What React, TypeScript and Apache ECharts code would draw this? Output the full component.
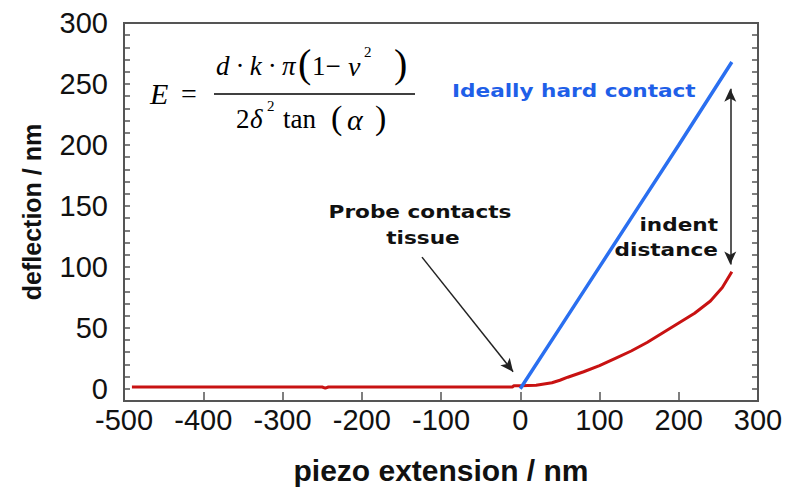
import React, { useEffect, useRef } from "react";
import * as echarts from "echarts";

// piezo extension (nm) vs deflection (nm)
const hardX = [0, 50, 100, 150, 200, 267];
const hardY = [0, 50, 100, 150, 200, 268];

const tissueX = [-490, -250, -246, -242, -10, -8, 0, 20, 40, 50, 60, 80, 100, 120, 140, 160, 180, 200, 220, 240, 255, 267];
const tissueY = [1.5, 1.5, 0.6, 1.5, 1.5, 2.5, 2.5, 3, 5, 7, 9.5, 14, 19, 25, 31, 38, 46, 54, 62, 72, 83, 96];

const xTicks = { min: -500, max: 300, step: 100 };
const yTicks = { min: -10, max: 300, step: 10, labelStep: 50 };

// annotation arrows in data coordinates
const contactArrow = [[-124, 108], [-9, 14]];
const indentArrow = [[265, 246], [265, 102]];

const SANS = "Liberation Sans, Arial, sans-serif";
const SERIF = "Liberation Serif, Times New Roman, serif";
const NOTE = "DejaVu Sans, Verdana, sans-serif";
const AXIS = "#555";

export default function App() {
  const ref = useRef<HTMLDivElement>(null);

  useEffect(() => {
    document.body.style.margin = "0";
    if (!ref.current) return;
    const chart = echarts.init(ref.current, null, { renderer: "svg" });

    const noteText = (text: string, x: number, y: number, align: string, color: string) => ({
      type: "text",
      x,
      y,
      scaleX: 1.2,
      style: {
        text,
        fill: color,
        font: `bold 18px ${NOTE}`,
        textAlign: align,
        textVerticalAlign: "middle",
      },
    });

    const mathText = (text: string, x: number, y: number, size: number, italic: boolean) => ({
      type: "text",
      x,
      y,
      style: {
        text,
        fill: "#000",
        font: `${italic ? "italic " : ""}${size}px ${SERIF}`,
        textAlign: "left",
        textVerticalAlign: "middle",
      },
    });

    const option: any = {
      animation: false,
      backgroundColor: "#fff",
      grid: {
        left: 124,
        right: 29,
        top: 23,
        bottom: 97,
        show: true,
        borderColor: AXIS,
        borderWidth: 2,
        backgroundColor: "transparent",
      },
      xAxis: {
        type: "value",
        min: xTicks.min,
        max: xTicks.max,
        interval: xTicks.step,
        axisLine: { show: true, onZero: false, lineStyle: { color: AXIS, width: 2 } },
        axisTick: { show: true, inside: true, length: 9, lineStyle: { color: AXIS, width: 1.5 } },
        splitLine: { show: false },
        axisLabel: { fontSize: 29, fontFamily: SANS, color: "#111", margin: 4 },
        name: "piezo extension / nm",
        nameLocation: "middle",
        nameGap: 54,
        nameTextStyle: { fontSize: 30, fontWeight: "bold", fontFamily: SANS, color: "#111" },
      },
      yAxis: [
        {
          type: "value",
          min: yTicks.min,
          max: yTicks.max,
          interval: yTicks.step,
          position: "left",
          axisLine: { show: true, onZero: false, lineStyle: { color: AXIS, width: 2 } },
          axisTick: { show: true, inside: true, length: 6, lineStyle: { color: AXIS, width: 1.5 } },
          splitLine: { show: false },
          axisLabel: {
            fontSize: 29,
            fontFamily: SANS,
            color: "#111",
            margin: 16,
            formatter: (v: number) => (v >= 0 && v % yTicks.labelStep === 0 ? String(v) : ""),
          },
          name: "deflection / nm",
          nameLocation: "middle",
          nameGap: 80,
          nameTextStyle: { fontSize: 25, fontWeight: "bold", fontFamily: SANS, color: "#111" },
        },
        {
          type: "value",
          min: yTicks.min,
          max: yTicks.max,
          interval: yTicks.step,
          position: "right",
          axisLine: { show: true, onZero: false, lineStyle: { color: AXIS, width: 2 } },
          axisTick: { show: true, inside: true, length: 6, lineStyle: { color: AXIS, width: 1.5 } },
          splitLine: { show: false },
          axisLabel: { show: false },
        },
      ],
      series: [
        {
          name: "tissue",
          type: "line",
          data: tissueX.map((x, i) => [x, tissueY[i]]),
          showSymbol: false,
          symbol: "none",
          lineStyle: { color: "#c81212", width: 3 },
          z: 3,
        },
        {
          name: "Ideally hard contact",
          type: "line",
          data: hardX.map((x, i) => [x, hardY[i]]),
          showSymbol: false,
          symbol: "none",
          lineStyle: { color: "#2a6ff0", width: 3.5 },
          z: 4,
          markLine: {
            silent: true,
            animation: false,
            label: { show: false },
            lineStyle: { color: "#222", width: 1.5, type: "solid" },
            symbolSize: [9, 13],
            data: [
              [
                { coord: contactArrow[0], symbol: "none" },
                { coord: contactArrow[1], symbol: "arrow" },
              ],
              [
                { coord: indentArrow[0], symbol: "arrow" },
                { coord: indentArrow[1], symbol: "arrow" },
              ],
            ],
          },
        },
      ],
      graphic: [
        noteText("Ideally hard contact", 452, 91, "left", "#1f5fe8"),
        noteText("Probe contacts", 420, 212, "center", "#111"),
        noteText("tissue", 423, 238, "center", "#111"),
        noteText("indent", 718, 225, "right", "#111"),
        noteText("distance", 718, 250, "right", "#111"),
        // formula E = d·k·π(1−ν²) / (2δ² tan(α))
        mathText("E", 150, 93, 30, true),
        mathText("=", 181, 93, 28, false),
        mathText("d · k · π", 216, 66, 27, true),
        mathText("(", 298, 63, 40, false),
        mathText("1−", 312, 66, 27, false),
        mathText("ν", 348, 66, 28, true),
        mathText("2", 364, 52, 15, false),
        mathText(")", 394, 63, 40, false),
        {
          type: "line",
          shape: { x1: 214, y1: 94, x2: 415, y2: 94 },
          style: { stroke: "#000", lineWidth: 1.5 },
        },
        mathText("2", 236, 119, 27, false),
        mathText("δ", 250, 119, 27, true),
        mathText("2", 267, 106, 15, false),
        mathText("tan", 283, 119, 27, false),
        mathText("(", 331, 117, 34, false),
        mathText("α", 347, 119, 30, true),
        mathText(")", 375, 117, 34, false),
      ],
    };

    chart.setOption(option);
    return () => chart.dispose();
  }, []);

  return (
    <div
      ref={ref}
      style={{ position: "fixed", left: 0, top: 0, width: 787, height: 498, background: "#fff" }}
    />
  );
}
